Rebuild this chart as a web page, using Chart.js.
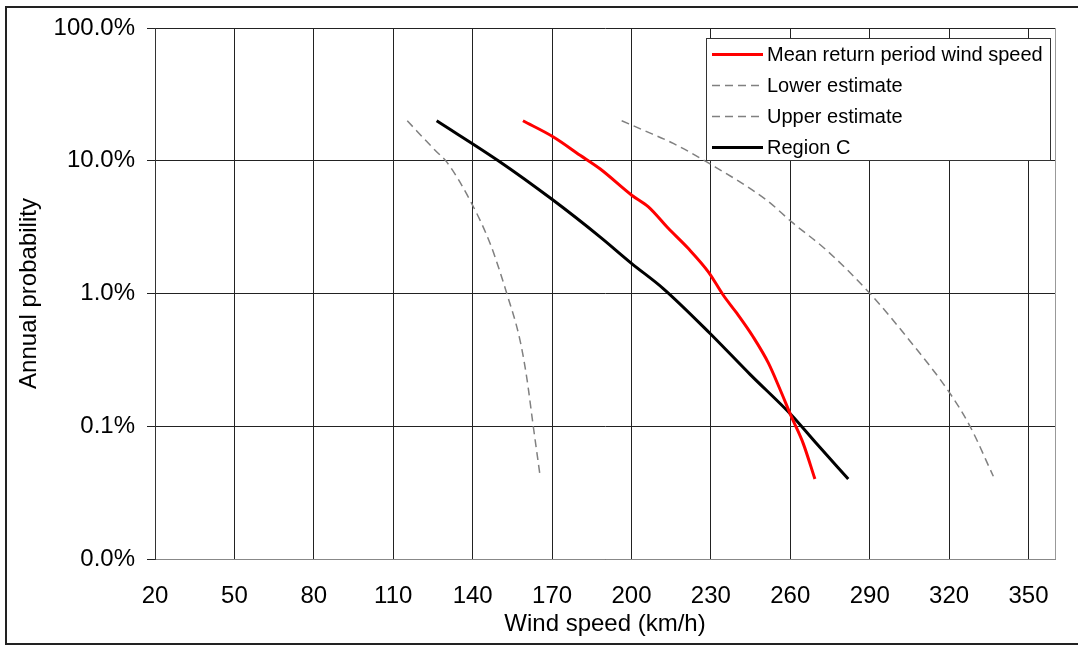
<!DOCTYPE html>
<html>
<head>
<meta charset="utf-8">
<script src="https://cdn.jsdelivr.net/npm/chart.js@4"></script>
<style>
    html, body { margin: 0; padding: 0; background: #fff; }
    #wrap { position: relative; width: 1078px; height: 646px; }
</style>
</head>
<body>
<div id="wrap"><canvas id="chart" width="1078" height="646"></canvas></div>
<script>
// Wind speed (km/h) and annual probability (fraction)
const meanSpeed = [159, 170.5, 180.6, 188.1, 200.1, 206.4, 213.9, 221.5, 229.1, 234.7, 239.8, 246, 251.7, 256.1, 260.5, 264.9, 269.3];
const meanProb  = [0.20, 0.151, 0.110, 0.087, 0.055, 0.045, 0.031, 0.0218, 0.0145, 0.0097, 0.0071, 0.0047, 0.0030, 0.0019, 0.00117, 0.00074, 0.0004];

const lowerSpeed = [115.3, 125.8, 130.2, 139.0, 146.6, 152.9, 157.9, 160.4, 162.9, 165.5];
const lowerProb  = [0.20, 0.12, 0.098, 0.0504, 0.0238, 0.010, 0.00444, 0.00235, 0.0010, 0.00042];

const upperSpeed = [196.3, 204.5, 215.8, 228.4, 251.1, 260.5, 273.8, 290.1, 304.0, 320.4, 328.0, 336.7];
const upperProb  = [0.20, 0.17, 0.135, 0.098, 0.0504, 0.0346, 0.0211, 0.010, 0.0047, 0.00176, 0.00099, 0.00042];

const regionSpeed = [126.4, 149.7, 170.1, 188.1, 200.1, 212.0, 229.7, 244.8, 260.5, 269.9, 281.9];
const regionProb  = [0.20, 0.10, 0.051, 0.0267, 0.0168, 0.0109, 0.0050, 0.00246, 0.00121, 0.00074, 0.0004];

const xTicks = [20, 50, 80, 110, 140, 170, 200, 230, 260, 290, 320, 350, 360];
const yTicks = [0.0001, 0.001, 0.01, 0.1, 1];

const FONT = "'Liberation Sans', Arial, sans-serif";

function toPoints(xs, ys) {
    return xs.map((x, i) => ({ x: x, y: ys[i] }));
}

// Legend box drawn inside the plot, top right
const insideLegend = {
    id: 'insideLegend',
    afterDraw(chart) {
        const ctx = chart.ctx;
        const left = 706, top = 38, right = 1051, bottom = 161;
        ctx.save();
        ctx.fillStyle = '#fff';
        ctx.fillRect(left, top, right - left, bottom - top);
        ctx.strokeStyle = '#333';
        ctx.lineWidth = 1;
        ctx.strokeRect(left + 0.5, top + 0.5, right - left - 1, bottom - top - 1);
        ctx.font = '20px ' + FONT;
        ctx.textBaseline = 'middle';
        ctx.textAlign = 'left';
        chart.data.datasets.forEach((ds, i) => {
            const y = 54.5 + i * 31;
            ctx.beginPath();
            ctx.strokeStyle = ds.borderColor;
            ctx.lineWidth = ds.borderWidth;
            ctx.setLineDash(ds.borderDash || []);
            ctx.moveTo(712, y);
            ctx.lineTo(763, y);
            ctx.stroke();
            ctx.setLineDash([]);
            ctx.fillStyle = '#000';
            ctx.fillText(ds.label, 767, y + 1);
        });
        ctx.restore();
    }
};

// Outer frame round the whole chart
const frame = {
    id: 'frame',
    beforeDraw(chart) {
        const ctx = chart.ctx;
        ctx.save();
        ctx.strokeStyle = '#222';
        ctx.lineWidth = 2;
        ctx.beginPath();
        ctx.moveTo(1078, 7);
        ctx.lineTo(6, 7);
        ctx.lineTo(6, 644);
        ctx.lineTo(1078, 644);
        ctx.stroke();
        ctx.restore();
    }
};

const ctx = document.getElementById('chart').getContext('2d');

new Chart(ctx, {
    type: 'line',
    data: {
        datasets: [
            {
                label: 'Mean return period wind speed',
                data: toPoints(meanSpeed, meanProb),
                borderColor: '#ff0000',
                borderWidth: 3
            },
            {
                label: 'Lower estimate',
                data: toPoints(lowerSpeed, lowerProb),
                borderColor: '#808080',
                borderWidth: 1.5,
                borderDash: [8, 5]
            },
            {
                label: 'Upper estimate',
                data: toPoints(upperSpeed, upperProb),
                borderColor: '#808080',
                borderWidth: 1.5,
                borderDash: [8, 5]
            },
            {
                label: 'Region C',
                data: toPoints(regionSpeed, regionProb),
                borderColor: '#000000',
                borderWidth: 3
            }
        ]
    },
    options: {
        responsive: false,
        animation: false,
        layout: { padding: { left: 0, top: 28, right: 22, bottom: 0 } },
        elements: {
            point: { radius: 0 },
            line: { cubicInterpolationMode: 'monotone', fill: false }
        },
        plugins: {
            legend: { display: false },
            tooltip: { enabled: false }
        },
        scales: {
            x: {
                type: 'linear',
                min: 20,
                max: 360,
                afterBuildTicks: axis => { axis.ticks = xTicks.map(v => ({ value: v })); },
                afterFit: axis => { axis.height = 87; },
                ticks: {
                    color: '#000',
                    font: { family: FONT, size: 24 },
                    padding: 23,
                    maxRotation: 0,
                    autoSkip: false,
                    callback: value => value === 360 ? '' : String(value)
                },
                grid: {
                    drawTicks: false,
                    color: c => (c.tick && c.tick.value === 360) ? '#999' : '#222'
                },
                border: { color: '#888' },
                title: {
                    display: true,
                    text: 'Wind speed (km/h)',
                    color: '#000',
                    font: { family: FONT, size: 24 },
                    padding: { top: 0, bottom: 7 }
                }
            },
            y: {
                type: 'logarithmic',
                min: 0.0001,
                max: 1,
                afterBuildTicks: axis => { axis.ticks = yTicks.map(v => ({ value: v })); },
                afterFit: axis => { axis.width = 155; },
                ticks: {
                    color: '#000',
                    font: { family: FONT, size: 24 },
                    padding: 12,
                    autoSkip: false,
                    callback: value => (value * 100).toFixed(1) + '%'
                },
                grid: {
                    color: '#222',
                    tickLength: 8
                },
                border: { color: '#333' },
                title: {
                    display: true,
                    text: 'Annual probability',
                    color: '#000',
                    font: { family: FONT, size: 24 },
                    padding: { top: 15, bottom: 0 }
                }
            }
        }
    },
    plugins: [frame, insideLegend]
});
</script>
</body>
</html>
